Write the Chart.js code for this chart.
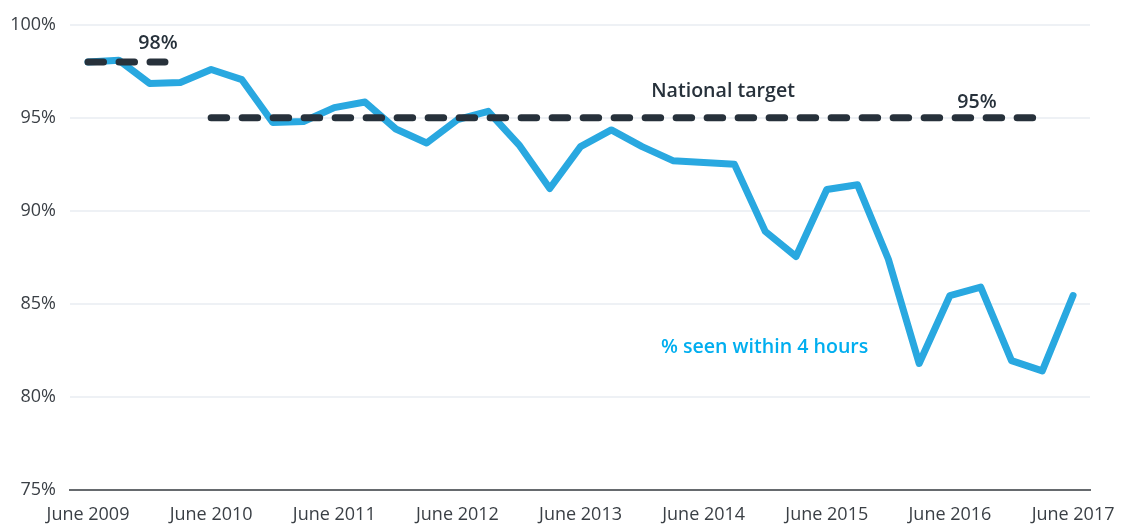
<!DOCTYPE html>
<html>
<head>
<meta charset="utf-8">
<script src="https://cdn.jsdelivr.net/npm/chart.js@4/dist/chart.umd.min.js"></script>
<style>
  html, body { margin: 0; padding: 0; background: #fff; }
  #wrap { width: 1123px; height: 524px; position: relative; }
</style>
</head>
<body>
<div id="wrap"><canvas id="waitChart"></canvas></div>
<script>
// --- Data ---
// quarter index 0 = June 2009, 32 = June 2017
const quarterIndex = [0, 1, 2, 3, 4, 5, 6, 7, 8, 9, 10, 11, 12, 13, 14, 15, 16,
    17, 18, 19, 20, 21, 22, 23, 24, 25, 26, 27, 28, 29, 30, 31, 32];
const seenWithin4h = [98.0, 98.1, 96.85, 96.9, 97.6, 97.05, 94.75, 94.8, 95.55, 95.85,
    94.4, 93.65, 94.9, 95.35, 93.55, 91.2, 93.45, 94.35, 93.45, 92.7, 92.6, 92.5,
    88.9, 87.55, 91.15, 91.4, 87.4, 81.8, 85.45, 85.9, 81.95, 81.4, 85.45];
const tickQuarters = [0, 4, 8, 12, 16, 20, 24, 28, 32];
const tickLabels = ['June 2009', 'June 2010', 'June 2011', 'June 2012', 'June 2013',
    'June 2014', 'June 2015', 'June 2016', 'June 2017'];
const target98 = { from: 0, to: 2.5, value: 98 };
const target95 = { from: 4, to: 30.8, value: 95 };

const DARK = '#27313b';
const BLUE = '#29a8e0';
const BLUE_TEXT = '#00aeef';
const FONT = '"Open Sans", "Noto Sans", sans-serif';

// --- Text labels on the chart ---
const textLabels = [
    { text: '98%', x: 2.27, y: 98.98, color: DARK },
    { text: 'National target', x: 20.63, y: 96.42, color: DARK },
    { text: '95%', x: 28.88, y: 95.83, color: DARK },
    { text: '% seen within 4 hours', x: 21.98, y: 82.64, color: BLUE_TEXT }
];

const labelPlugin = {
    id: 'textLabels',
    afterDatasetsDraw(chart) {
        const ctx = chart.ctx;
        const xs = chart.scales.x, ys = chart.scales.y;
        ctx.save();
        ctx.font = '600 19.6px ' + FONT;
        ctx.textAlign = 'center';
        ctx.textBaseline = 'middle';
        textLabels.forEach(l => {
            ctx.fillStyle = l.color;
            ctx.fillText(l.text, xs.getPixelForValue(l.x), ys.getPixelForValue(l.y));
        });
        ctx.restore();
    }
};

function targetLine(t) {
    return {
        data: [{ x: t.from, y: t.value }, { x: t.to, y: t.value }],
        borderColor: DARK,
        borderWidth: 7,
        borderDash: [15.5, 15.5],
        borderCapStyle: 'round',
        pointRadius: 0,
        order: 0
    };
}

// --- Chart ---
new Chart(document.getElementById('waitChart'), {
    type: 'line',
    data: {
        datasets: [
            targetLine(target98),
            targetLine(target95),
            {
                data: quarterIndex.map((q, i) => ({ x: q, y: seenWithin4h[i] })),
                borderColor: BLUE,
                borderWidth: 7,
                borderJoinStyle: 'round',
                borderCapStyle: 'round',
                tension: 0,
                pointRadius: 0,
                order: 1
            }
        ]
    },
    options: {
        responsive: true,
        maintainAspectRatio: false,
        animation: false,
        layout: { padding: { top: 22, right: 33, left: 0, bottom: 0 } },
        plugins: { legend: { display: false }, tooltip: { enabled: false } },
        scales: {
            x: {
                type: 'linear',
                min: -0.585,
                max: 32.55,
                afterBuildTicks(scale) {
                    scale.ticks = tickQuarters.map(v => ({ value: v }));
                },
                afterFit(scale) {
                    scale.height = 34;
                    // labels may overhang the plot; keep the plot edges fixed
                    scale.paddingLeft = 0;
                    scale.paddingRight = 0;
                },
                grid: { display: false, drawTicks: false },
                border: { display: true, color: '#666a6e', width: 2 },
                ticks: {
                    padding: 14,
                    color: '#3a3f45',
                    font: { family: FONT, size: 18 },
                    maxRotation: 0,
                    callback: (v) => tickLabels[tickQuarters.indexOf(v)]
                }
            },
            y: {
                min: 75,
                max: 100,
                afterFit(scale) { scale.width = 70; },
                grid: { color: '#eef1f5', lineWidth: 2, drawTicks: false },
                border: { display: false },
                ticks: {
                    stepSize: 5,
                    padding: 14,
                    color: '#3a3f45',
                    font: { family: FONT, size: 18 },
                    callback: (v) => v + '%'
                }
            }
        }
    },
    plugins: [labelPlugin]
});
</script>
</body>
</html>
